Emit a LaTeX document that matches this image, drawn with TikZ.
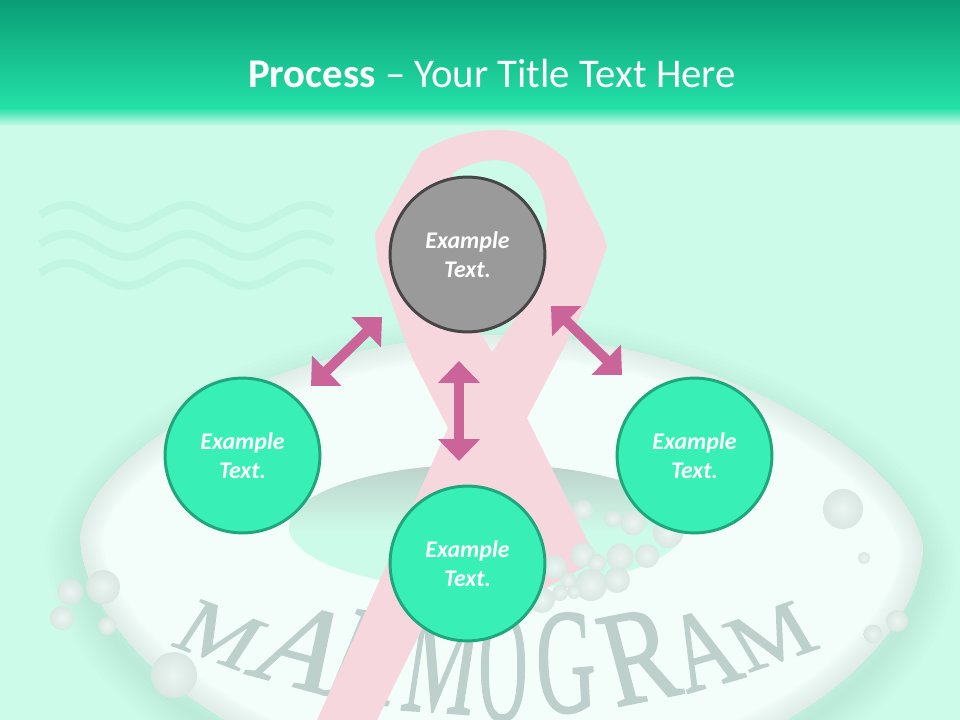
\documentclass[tikz,border=0pt]{standalone}
\usepackage{fontspec}
\setmainfont{Carlito}
\newfontfamily\ringfont[FakeBold=1.4]{Liberation Serif}
\usetikzlibrary{arrows.meta}
\definecolor{bandtop}{HTML}{0A9E76}
\definecolor{bandlow}{HTML}{24E0A7}
\definecolor{paper}{HTML}{CDFBE9}
\definecolor{wavecol}{HTML}{C3F5E3}
\definecolor{ringcol}{HTML}{F3FEFA}
\definecolor{ringedge}{HTML}{B9CAC4}
\definecolor{shadowcol}{HTML}{8FCDB9}
\definecolor{holecol}{HTML}{BDD1CB}
\definecolor{lettercol}{HTML}{BED0CB}
\definecolor{ribboncol}{HTML}{F6D7DE}
\definecolor{arrowcol}{HTML}{CB6498}
\definecolor{circcol}{HTML}{38EFB5}
\definecolor{circline}{HTML}{1FA67C}
\definecolor{greycol}{HTML}{9A9A9A}
\definecolor{greyline}{HTML}{464646}
\newcommand{\ringpath}{(923,545) .. controls (925,640) and (770,790) .. (500,790) .. controls (250,790) and (80,640) .. (80,535) .. controls (95,440) and (300,335) .. (500,335) .. controls (700,335) and (905,450) .. (923,545) -- cycle}
\tikzset{
  stepcirc/.style={circle,draw=circline,fill=circcol,line width=2.1pt,minimum size=3.87cm,inner sep=0pt,
    text=white,align=center,font=\fontsize{17}{20.6}\selectfont\bfseries\itshape},
  greycirc/.style={stepcirc,draw=greyline,fill=greycol},
  ringtext/.style={inner sep=0pt,anchor=base,text=lettercol,font=\fontsize{40}{40}\ringfont},
  bubble/.style={inner color=white!55!ringedge!40!ringcol,outer color=ringedge!45!ringcol},
  blockarrow/.style={arrowcol,line width=7.1pt,{Triangle[length=15.6pt,width=29pt]}-{Triangle[length=15.6pt,width=29pt]}},
}
\begin{document}
\begin{tikzpicture}[x=0.025cm,y=-0.025cm]
\useasboundingbox (0,0) rectangle (960,720);
\clip (0,0) rectangle (960,720);
% background and title band
\fill[paper] (0,0) rectangle (960,720);
\shade[top color=bandtop,bottom color=bandlow] (0,0) rectangle (960,108);
\shade[top color=bandlow,bottom color=paper] (0,108) rectangle (960,126);
% waves
\foreach \off in {0,29,58}
  \draw[wavecol,line width=5.7pt] plot[domain=40:333,samples=60] (\x,{216.5+\off-11.5*cos((\x-67)*3)});
% ring with soft shadow
\foreach \wd in {6,12,...,48}
  \draw[shift={(0,14)},shadowcol,line width=\wd pt,opacity=0.03] \ringpath;
\fill[ringcol] \ringpath;
\begin{scope}
\clip \ringpath;
\foreach \wd in {4,8,...,32}
  \draw[ringedge,line width=\wd pt,opacity=0.045] \ringpath;
\end{scope}
% hole of the ring
\begin{scope}
\clip (487,527) ellipse (198 and 63);
\fill[paper] (280,460) rectangle (700,600);
\shade[top color=holecol,bottom color=paper] (280,464) rectangle (700,532);
\end{scope}
% curved word
\node[ringtext,cm={1.44,-0.54,0.81,1.24,(0,0)}] (letterA) at (205,658) {M};
\node[ringtext,cm={2.02,-0.54,1.19,1.92,(0,0)}] (letterB) at (284,684) {A};
\node[ringtext,cm={1.4,-0.24,0.95,2.3,(0,0)}] (letterC) at (355,700) {M};
\node[ringtext,cm={1.45,-0.1,0.4,2.65,(0,0)}] (letterD) at (435,712) {M};
\node[ringtext,cm={1.2,0.07,0,2.84,(0,0)}] (letterE) at (503,720) {O};
\node[ringtext,cm={1.45,0.12,-0.13,2.65,(0,0)}] (letterF) at (568,712) {G};
\node[ringtext,cm={1.85,0.37,-0.62,2.35,(0,0)}] (letterG) at (650,700) {R};
\node[ringtext,cm={1.48,0.42,-0.78,1.89,(0,0)}] (letterH) at (717,685) {A};
\node[ringtext,cm={1.5,0.52,-0.76,1.27,(0,0)}] (letterI) at (785,660) {M};
% bubbles behind the ribbon
\foreach \bx/\by/\br in {583/510/10,613/519/8.5,633/523/12.5,668/533/15,843/509/20,864/558/6,897/621/11,873/634/9.5,
  103/587/17,70/592/13,62/618/12,107/626/9}
  \shade[bubble] (\bx,\by) circle (\br);
% ribbon
\fill[ribboncol,even odd rule] (317,720) -- (448,428) -- (413,360) -- (400,327) -- (377,260) -- (375,233) -- (420,153)
  .. controls (445,137) and (470,130) .. (500,130) .. controls (525,130) and (548,143) .. (567,160)
  -- (603,233) -- (607,247) -- (587,303) -- (527,418) -- (597,560) -- (530,597) -- (485,502) -- (377,720) -- cycle
  (453,173) .. controls (470,163) and (485,160) .. (497,160) .. controls (525,162) and (547,185) .. (547,225)
  -- (535,290) -- (492,352) -- (460,300) -- (440,240) -- cycle;
% bubbles on the ribbon
\foreach \bx/\by/\br in {620/557/13.5,647/556/12,617/580/13,583/555/12.5,597/563/9,591/585/16,555/567/12,568/580/8,
  574/592/7,560/593/8,542/600/13,174/675/23}
  \shade[bubble] (\bx,\by) circle (\br);
% title
\node[font=\fontsize{29}{34}\selectfont,text=white,inner sep=0pt,anchor=base] (title) at (492,88) {\textbf{Process} -- Your Title Text Here};
% arrows
\coordinate (upA) at (382,317);
\coordinate (upB) at (311,386);
\coordinate (midA) at (459,361);
\coordinate (midB) at (459,461);
\coordinate (rightA) at (551,306);
\coordinate (rightB) at (622,375);
\draw[blockarrow] (upA) -- (upB);
\draw[blockarrow] (midA) -- (midB);
\draw[blockarrow] (rightA) -- (rightB);
% circles
\node[greycirc] (top) at (467.5,254.5) {Example\\Text.};
\node[stepcirc] (left) at (242.5,455.5) {Example\\Text.};
\node[stepcirc] (right) at (694.5,455.5) {Example\\Text.};
\node[stepcirc] (bottom) at (467.5,563.5) {Example\\Text.};
\end{tikzpicture}
\end{document}
